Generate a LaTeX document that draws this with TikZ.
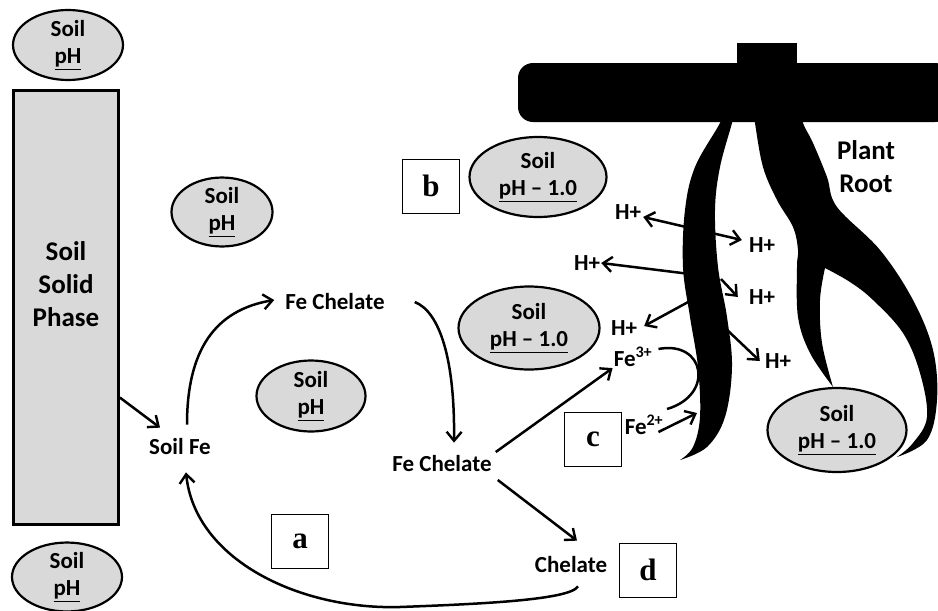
\documentclass[tikz,border=0pt]{standalone}
\usepackage{fontspec}
\setmainfont{Carlito}
\newfontfamily\boxfont{Liberation Serif}
\usetikzlibrary{shapes.geometric,arrows.meta}
\definecolor{soilgray}{HTML}{D9D9D9}
\tikzset{
  soil/.style={ellipse, draw, line width=2.2pt, fill=soilgray, inner sep=0, align=center, font=\fontsize{23}{27}\selectfont\bfseries},
  txt/.style={inner sep=1pt, align=center, font=\fontsize{23}{27}\selectfont\bfseries},
  big/.style={inner sep=1pt, align=center, font=\fontsize{27}{33}\selectfont\bfseries},
  tag/.style={draw, line width=0.9pt, fill=white, minimum width=57pt, minimum height=54pt, inner sep=0, font=\fontsize{31}{31}\selectfont\boxfont\bfseries},
  arr/.style={-{Straight Barb[length=9pt,width=15pt,line width=2.4pt]}, line width=2.5pt},
  dblarr/.style={{Straight Barb[length=9pt,width=15pt,line width=2.4pt]}-{Straight Barb[length=9pt,width=15pt,line width=2.4pt]}, line width=2.5pt}
}
\begin{document}
\begin{tikzpicture}[x=1pt,y=-1pt]
        \useasboundingbox (0,0) rectangle (938,611);
        \node [draw, line width=2.6pt, fill=soilgray, minimum width=105pt, minimum height=434pt, inner sep=0] (solid) at (66,307.5) {};
        \node [big] (solidtxt) at (66,284) {Soil\\Solid\\Phase};
        \node [soil, minimum width=110pt, minimum height=70pt] (ph1) at (68,45) {Soil\\\underline{pH}};
        \node [soil, minimum width=101pt, minimum height=55pt] (ph2) at (222,212) {Soil\\\underline{pH}};
        \node [soil, minimum width=109pt, minimum height=71pt] (ph3) at (311,396) {Soil\\\underline{pH}};
        \node [soil, minimum width=110pt, minimum height=66pt] (ph4) at (67,577) {Soil\\\underline{pH}};
        \node [soil, minimum width=137pt, minimum height=80pt] (low1) at (538,177) {Soil\\\underline{pH – 1.0}};
        \node [soil, minimum width=141pt, minimum height=83pt] (low2) at (529,328) {Soil\\\underline{pH – 1.0}};
        \node [soil, minimum width=139pt, minimum height=84pt] (low3) at (837,430) {Soil\\\underline{pH – 1.0}};
        \node [tag] (taga) at (300,541) {a};
        \node [tag] (tagb) at (431,186) {b};
        \node [tag] (tagc) at (593,439) {c};
        \node [tag] (tagd) at (648,570) {d};
        \node [txt] (soilfe) at (180,447) {Soil Fe};
        \node [txt] (fech) at (335,302) {Fe Chelate};
        \node [txt] (fech2) at (442,464) {Fe Chelate};
        \node [txt] (chel) at (571,565) {Chelate};
        \node [txt] (fe3) at (633,357) {Fe\textsuperscript{3+}};
        \node [txt] (fe2) at (644,425) {Fe\textsuperscript{2+}};
        \node [big] (plant) at (866,167) {Plant\\Root};
        \node [txt] (h1) at (628,212) {H+};
        \node [txt] (h2) at (762,245) {H+};
        \node [txt] (h3) at (587,263) {H+};
        \node [txt] (h4) at (762,297) {H+};
        \node [txt] (h5) at (624,328) {H+};
        \node [txt] (h6) at (778,361) {H+};
        \coordinate (rt3) at (690,274);
        \coordinate (rt4) at (721,279);
        \coordinate (rt5) at (690,301);
        \coordinate (rt6) at (724,327);
        \coordinate (rt2) at (697,413);
        \coordinate (fe3end) at (667,409);
        \draw [arr] ([shift={(0,90)}]solid.east) -- ([shift={(12,-10)}]soilfe.north west);
        \draw [arr] ([shift={(7,-13)}]soilfe.north) .. controls (187,350) and (215,310) .. ([shift={(-10,-2)}]fech.west);
        \draw [arr] ([shift={(29,0)}]fech.east) .. controls (440,312) and (455,360) .. ([shift={(12,-12)}]fech2.north);
        \draw [arr] ([shift={(3,-12)}]fech2.east) -- (fe3.south west);
        \draw [arr] ([shift={(5,16)}]fech2.east) -- ([shift={(6,-15)}]chel.north);
        \draw [arr] ([shift={(7,12)}]chel.south) .. controls (570,600) and (480,604) .. (400,607) .. controls (300,610) and (195,560) .. ([shift={(6,16)}]soilfe.south);
        \draw [dblarr] ([shift={(1,5)}]h1.east) -- ([shift={(-6,-5)}]h2.west);
        \draw [arr] (rt3) -- (h3.east);
        \draw [arr] (rt4) -- ([shift={(-10,0)}]h4.west);
        \draw [arr] (rt5) -- ([shift={(6,-2)}]h5.east);
        \draw [arr] (rt6) -- ([shift={(-4,0)}]h6.west);
        \draw [line width=2.5pt] ([shift={(5,-8)}]fe3.east) .. controls (705,340) and (715,395) .. (fe3end);
        \draw [arr] ([shift={(-6,7)}]fe2.east) -- (rt2);
        \fill (737,43) rectangle (797,66);
        \fill [rounded corners=15pt] (950,63) -- (518,63) -- (518,122) -- (950,122) -- cycle;
        \fill plot [smooth, tension=0.6] coordinates {(722,112) (720,123) (695,167) (685,210) (683,267) (690,317) (698,367) (700,417) (693,447) (680,460)}
          -- plot [smooth, tension=0.6] coordinates {(680,460) (707,447) (725,417) (732,367) (727,317) (718,267) (715,210) (720,167) (732,123) (734,112)} -- cycle;
        \fill plot [smooth, tension=0.6] coordinates {(754,112) (755,123) (763,167) (777,200) (793,227) (798,250) (797,267) (798,317) (810,353) (833,387)}
          -- plot [smooth, tension=0.6] coordinates {(833,387) (822,343) (820,300) (825,268)}
          -- plot [smooth, tension=0.6] coordinates {(825,268) (850,282) (873,300) (903,333) (920,373) (927,417) (913,443) (897,457)}
          -- plot [smooth, tension=0.6] coordinates {(897,457) (927,440) (937,400) (933,350) (913,300) (880,250) (837,207) (827,177) (813,143) (803,123) (804,112)} -- cycle;
      \end{tikzpicture}
\end{document}
